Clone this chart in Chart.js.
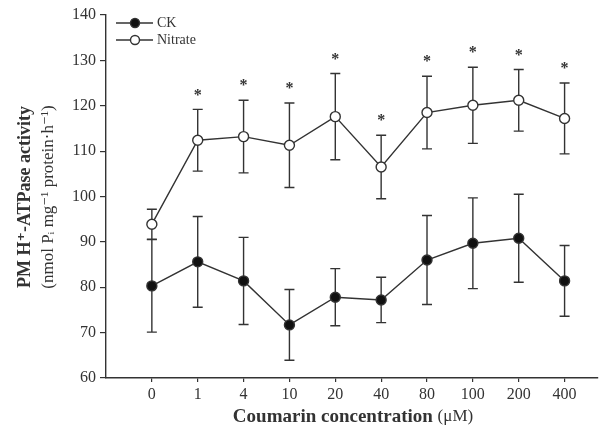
<!DOCTYPE html>
<html>
<head>
<meta charset="utf-8">
<script src="https://cdn.jsdelivr.net/npm/chart.js@4"></script>
<style>
  html, body { margin: 0; padding: 0; background: #fff; }
  #wrap { width: 604px; height: 433px; position: relative; }
</style>
</head>
<body>
<div id="wrap"><canvas id="atpChart"></canvas></div>
<script>
const concentrations = ['0', '1', '4', '10', '20', '40', '80', '100', '200', '400'];
const ckMean = [80.3, 85.6, 81.4, 71.7, 77.8, 77.2, 86.0, 89.7, 90.8, 81.4];
const ckErr = [10.2, 10.0, 9.6, 7.8, 6.3, 5.0, 9.8, 10.0, 9.7, 7.8];
const nitrateMean = [93.9, 112.4, 113.2, 111.3, 117.6, 106.5, 118.5, 120.1, 121.2, 117.2];
const nitrateErr = [3.3, 6.8, 8.0, 9.3, 9.5, 7.0, 8.0, 8.4, 6.8, 7.8];
const nitrateSig = ['', '*', '*', '*', '*', '*', '*', '*', '*', '*'];
const yTicks = [60, 70, 80, 90, 100, 110, 120, 130, 140];

const ink = '#333';
const serif = "'Liberation Serif', 'DejaVu Serif', serif";

const toPoints = arr => arr.map((v, i) => ({ x: i, y: v }));

// error bars + asterisks, drawn from the scales
const errorBars = {
    id: 'errorBars',
    beforeDatasetsDraw(chart) {
        const ctx = chart.ctx;
        const xs = chart.scales.x, ys = chart.scales.y;
        const sets = [[ckMean, ckErr], [nitrateMean, nitrateErr]];
        ctx.save();
        ctx.strokeStyle = ink;
        ctx.lineWidth = 1.4;
        sets.forEach(([m, e]) => {
            m.forEach((v, i) => {
                const px = xs.getPixelForValue(i);
                const top = ys.getPixelForValue(v + e[i]);
                const bot = ys.getPixelForValue(v - e[i]);
                ctx.beginPath();
                ctx.moveTo(px, top); ctx.lineTo(px, bot);
                ctx.moveTo(px - 5, top); ctx.lineTo(px + 5, top);
                ctx.moveTo(px - 5, bot); ctx.lineTo(px + 5, bot);
                ctx.stroke();
            });
        });
        ctx.fillStyle = ink;
        ctx.font = 'bold 16px ' + serif;
        ctx.textAlign = 'center';
        ctx.textBaseline = 'middle';
        nitrateSig.forEach((s, i) => {
            if (!s) return;
            const px = xs.getPixelForValue(i);
            const top = ys.getPixelForValue(nitrateMean[i] + nitrateErr[i]);
            ctx.fillText(s, px, top - 14);
        });
        ctx.restore();
    }
};

// axis titles and the small legend in the corner
const decorations = {
    id: 'decorations',
    afterDraw(chart) {
        const ctx = chart.ctx;
        ctx.save();
        ctx.fillStyle = ink;
        ctx.textBaseline = 'middle';

        // y title
        ctx.save();
        ctx.translate(25, 197);
        ctx.rotate(-Math.PI / 2);
        ctx.textAlign = 'center';
        ctx.font = 'bold 18px ' + serif;
        ctx.fillText('PM H\u207A-ATPase activity', 0, 0);
        ctx.font = '17px ' + serif;
        ctx.fillText('(nmol P\u1D62 mg\u207B\u00B9 protein\u00B7h\u207B\u00B9)', 0, 24);
        ctx.restore();

        // x title
        ctx.font = 'bold 19px ' + serif;
        const t1 = 'Coumarin concentration ';
        const w1 = ctx.measureText(t1).width;
        ctx.font = '17px ' + serif;
        const t2 = '(\u03BCM)';
        const w2 = ctx.measureText(t2).width;
        let x0 = 353 - (w1 + w2) / 2;
        ctx.textAlign = 'left';
        ctx.font = 'bold 19px ' + serif;
        ctx.fillText(t1, x0, 417);
        ctx.font = '17px ' + serif;
        ctx.fillText(t2, x0 + w1, 417);

        // legend
        const rows = [['CK', '#111', 23], ['Nitrate', '#fff', 40]];
        rows.forEach(([name, fill, y]) => {
            ctx.strokeStyle = ink;
            ctx.lineWidth = 1.4;
            ctx.beginPath();
            ctx.moveTo(116, y); ctx.lineTo(153, y);
            ctx.stroke();
            ctx.beginPath();
            ctx.arc(135, y, 4.5, 0, Math.PI * 2);
            ctx.fillStyle = fill;
            ctx.fill();
            ctx.stroke();
            ctx.fillStyle = ink;
            ctx.font = '14px ' + serif;
            ctx.fillText(name, 157, y);
        });
        ctx.restore();
    }
};

new Chart(document.getElementById('atpChart'), {
    type: 'line',
    data: {
        datasets: [{
            label: 'CK',
            data: toPoints(ckMean),
            borderColor: ink,
            backgroundColor: ink,
            pointBackgroundColor: '#111',
            pointBorderColor: ink,
            borderWidth: 1.4,
            pointRadius: 5,
            pointBorderWidth: 1.4
        }, {
            label: 'Nitrate',
            data: toPoints(nitrateMean),
            borderColor: ink,
            backgroundColor: '#fff',
            pointBackgroundColor: '#fff',
            pointBorderColor: ink,
            borderWidth: 1.4,
            pointRadius: 5,
            pointBorderWidth: 1.4
        }]
    },
    options: {
        responsive: true,
        maintainAspectRatio: false,
        animation: false,
        layout: { padding: { left: 0, right: 0, top: 15, bottom: 0 } },
        plugins: {
            legend: { display: false },
            tooltip: { enabled: false }
        },
        scales: {
            x: {
                type: 'linear',
                min: -1,
                max: 9.72,
                afterBuildTicks: s => { s.ticks = concentrations.map((c, i) => ({ value: i })); },
                afterFit: s => { s.height = 55; },
                ticks: {
                    callback: v => concentrations[v],
                    color: ink,
                    font: { family: serif, size: 16 },
                    padding: 3,
                    maxRotation: 0,
                    autoSkip: false
                },
                grid: { drawOnChartArea: false, drawTicks: true, tickLength: 4, color: ink, lineWidth: 1.2 },
                border: { color: ink, width: 1.4 }
            },
            y: {
                min: 60,
                max: 140,
                afterBuildTicks: s => { s.ticks = yTicks.map(v => ({ value: v })); },
                afterFit: s => { s.width = 106; },
                ticks: {
                    color: ink,
                    font: { family: serif, size: 16 },
                    padding: 4
                },
                grid: { drawOnChartArea: false, drawTicks: true, tickLength: 6, color: ink, lineWidth: 1.2 },
                border: { color: ink, width: 1.4 }
            }
        }
    },
    plugins: [errorBars, decorations]
});
</script>
</body>
</html>
